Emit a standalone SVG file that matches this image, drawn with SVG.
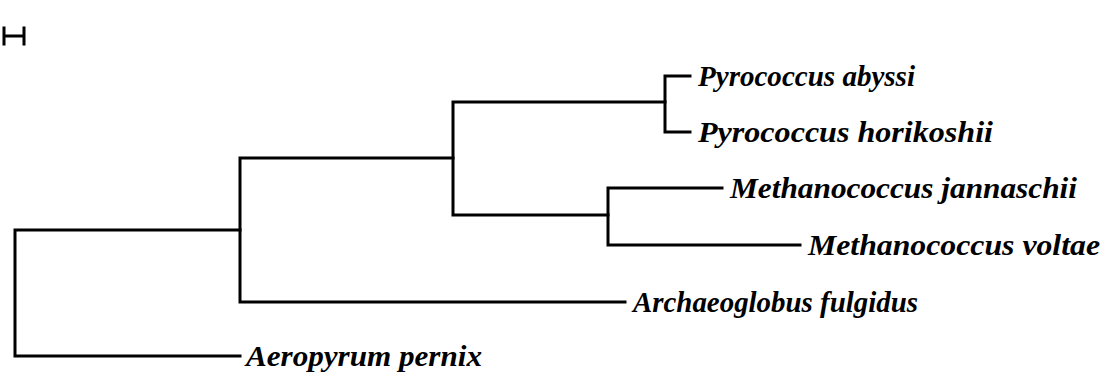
<svg xmlns="http://www.w3.org/2000/svg" width="1115" height="375" viewBox="0 0 1115 375">
  <style>
    .br { fill: none; stroke: #000; stroke-width: 3; stroke-linecap: square; stroke-linejoin: miter; }
    .tx { font-family: "Liberation Serif", "Times New Roman", serif; font-style: italic; font-weight: bold; font-size: 30px; fill: #000; }
  </style>
  <rect width="1115" height="375" fill="#fff"/>

  <!-- scale bar -->
  <g id="scale">
    <path class="br" d="M4 28 V44 M4 36 H24 M24 28 V44"/>
  </g>

  <!-- tree branches -->
  <g id="connectors">
    <path class="br" d="M240 230 H15 V356 H240"/>
    <path class="br" d="M453 158 H240 V302 H625"/>
    <path class="br" d="M665 102 H453 V215 H608"/>
    <path class="br" d="M690 76 H665 V132 H690"/>
    <path class="br" d="M722 188 H608 V245 H800"/>
  </g>

  <!-- leaves -->
  <g id="pyrococcus-abyssi"><text class="tx" x="698" y="86" textLength="217" lengthAdjust="spacingAndGlyphs">Pyrococcus abyssi</text></g>
  <g id="pyrococcus-horikoshii"><text class="tx" x="698" y="142" textLength="295" lengthAdjust="spacingAndGlyphs">Pyrococcus horikoshii</text></g>
  <g id="methanococcus-jannaschii"><text class="tx" x="730" y="198" textLength="347" lengthAdjust="spacingAndGlyphs">Methanococcus jannaschii</text></g>
  <g id="methanococcus-voltae"><text class="tx" x="808" y="255" textLength="292" lengthAdjust="spacingAndGlyphs">Methanococcus voltae</text></g>
  <g id="archaeoglobus-fulgidus"><text class="tx" x="633" y="312" textLength="285" lengthAdjust="spacingAndGlyphs">Archaeoglobus fulgidus</text></g>
  <g id="aeropyrum-pernix"><text class="tx" x="246" y="366" textLength="236" lengthAdjust="spacingAndGlyphs">Aeropyrum pernix</text></g>
</svg>
